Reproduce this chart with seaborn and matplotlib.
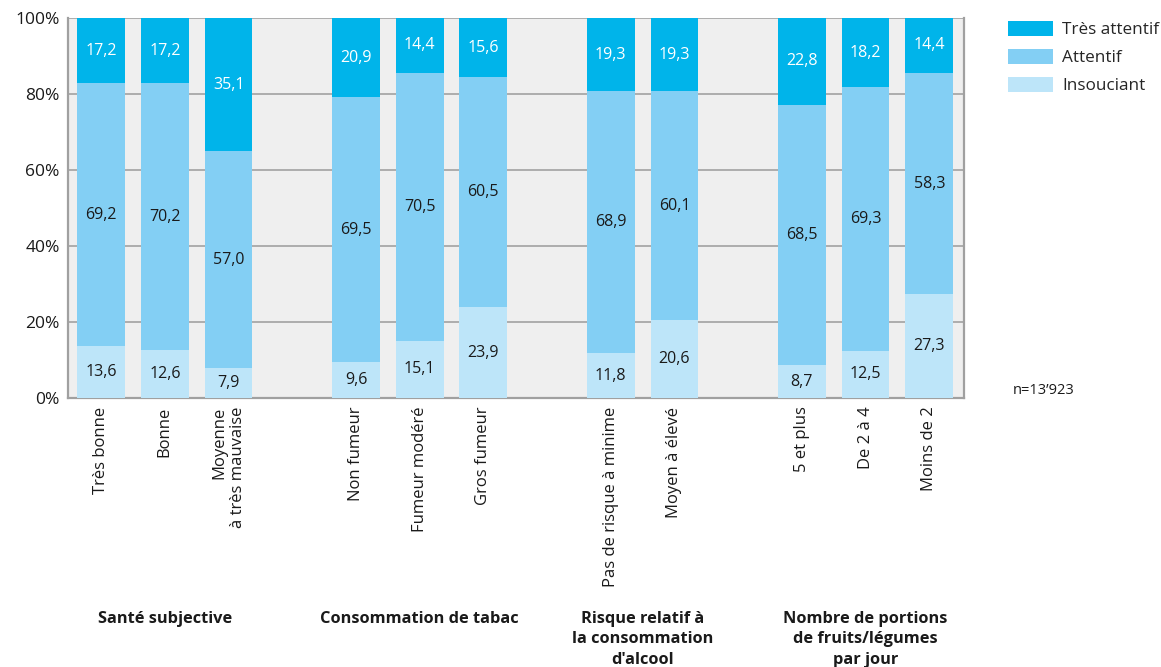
import matplotlib
matplotlib.use("Agg")
import matplotlib.pyplot as plt
from matplotlib.patches import Patch
import seaborn as sns
import pandas as pd
import numpy as np

# Categories (with their slot positions on the x axis; gaps separate groups)
categories = ["Très bonne", "Bonne", "Moyenne\nà très mauvaise",
              "Non fumeur", "Fumeur modéré", "Gros fumeur",
              "Pas de risque à minime", "Moyen à élevé",
              "5 et plus", "De 2 à 4", "Moins de 2"]
positions = [0, 1, 2, 4, 5, 6, 8, 9, 11, 12, 13]

groups = ["Santé subjective", "Consommation de tabac",
          "Risque relatif à\nla consommation\nd'alcool",
          "Nombre de portions\nde fruits/légumes\npar jour"]
group_centers = [1, 5, 8.5, 12]

insouciant = [13.6, 12.6, 7.9, 9.6, 15.1, 23.9, 11.8, 20.6, 8.7, 12.5, 27.3]
attentif = [69.2, 70.2, 57.0, 69.5, 70.5, 60.5, 68.9, 60.1, 68.5, 69.3, 58.3]
tres_attentif = [17.2, 17.2, 35.1, 20.9, 14.4, 15.6, 19.3, 19.3, 22.8, 18.2, 14.4]

series = ["Très attentif", "Attentif", "Insouciant"]
colors = {"Très attentif": "#00b4ea", "Attentif": "#83cff4", "Insouciant": "#bde5f9"}

df = pd.DataFrame({
    "pos": positions,
    "Insouciant": insouciant,
    "Attentif": attentif,
    "Très attentif": tres_attentif,
})
df["top_ins"] = df["Insouciant"]
df["top_att"] = df["Insouciant"] + df["Attentif"]
df["top_tres"] = df["top_att"] + df["Très attentif"]

sns.set_style("white")
plt.rcParams["font.family"] = ["Open Sans", "DejaVu Sans"]

fig = plt.figure(figsize=(11.61, 6.67), dpi=100)
ax = fig.add_axes([0.0586, 0.403, 0.772, 0.570])
ax.set_facecolor("#efefef")

# Stacked bars: draw cumulative totals from the top segment down
for col, name in [("top_tres", "Très attentif"), ("top_att", "Attentif"), ("top_ins", "Insouciant")]:
    sns.barplot(data=df, x="pos", y=col, native_scale=True, color=colors[name],
                width=0.75, saturation=1, linewidth=0, ax=ax, zorder=3)

# Segment value labels
for i, p in enumerate(positions):
    b0 = 0
    for val, name, tc in [(insouciant[i], "Insouciant", "#1a1a1a"),
                          (attentif[i], "Attentif", "#1a1a1a"),
                          (tres_attentif[i], "Très attentif", "white")]:
        ax.text(p, b0 + val / 2, f"{val:.1f}".replace(".", ","), ha="center", va="center",
                fontsize=11.5, color=tc, zorder=5)
        b0 += val

ax.set_xlim(-0.52, 13.55)
ax.set_ylim(0, 100)
ax.set_yticks(np.arange(0, 101, 20))
ax.set_yticklabels([f"{v}%" for v in range(0, 101, 20)], fontsize=12.5, color="#1a1a1a")
ax.yaxis.grid(True, color="#a8a8a8", linewidth=1.3, zorder=1)
ax.set_axisbelow(True)
ax.set_xticks(positions)
ax.set_xticklabels(categories, rotation=90, fontsize=12, color="#1a1a1a",
                   va="top", ha="center", multialignment="right")
ax.tick_params(axis="both", length=0, pad=6)
ax.set_xlabel("")
ax.set_ylabel("")
for side in ["left", "bottom", "right"]:
    ax.spines[side].set_color("#a0a0a0")
    ax.spines[side].set_linewidth(1.6)
ax.spines["top"].set_visible(False)

# Group titles under the tick labels
for g, c in zip(groups, group_centers):
    ax.text(c, -0.56, g, transform=ax.get_xaxis_transform(), ha="center", va="top",
            fontsize=11.8, fontweight="bold", color="#1a1a1a", linespacing=1.35)

handles = [Patch(facecolor=colors[s], edgecolor="none") for s in series]
fig.legend(handles, series, loc="upper left", bbox_to_anchor=(0.868, 0.969), frameon=False,
           fontsize=12.3, handlelength=2.65, handleheight=1.0, handletextpad=0.55,
           labelspacing=0.62, borderaxespad=0, borderpad=0)

fig.text(0.872, 0.415, "n=13\u2019923", fontsize=10.5, color="#1a1a1a", ha="left", va="center")

fig.savefig("out.png", dpi=100, facecolor="white")
